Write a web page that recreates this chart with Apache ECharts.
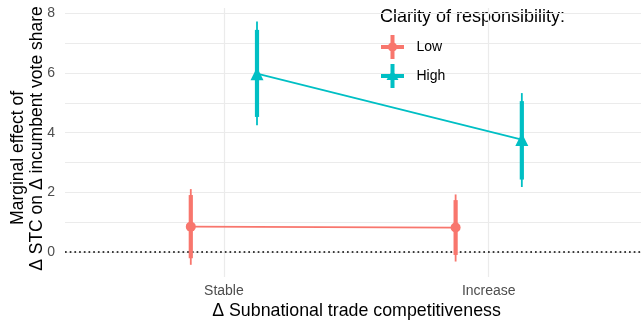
<!DOCTYPE html>
<html>
<head>
<meta charset="utf-8">
<script src="https://cdn.jsdelivr.net/npm/echarts@6/dist/echarts.min.js"></script>
<style>html,body{margin:0;padding:0;background:#fff}#c{width:641px;height:322px}</style>
</head>
<body>
<div id="c"></div>
<script>
// ---- data ----
var categories = ['Stable', 'Increase'];
var seriesNames = ['Low', 'High'];
var lowEst   = [0.85, 0.82];
var lowLo90  = [-0.21, -0.10];
var lowHi90  = [1.91, 1.74];
var lowLo95  = [-0.43, -0.32];
var lowHi95  = [2.11, 1.93];
var highEst  = [5.98, 3.77];
var highLo90 = [4.53, 2.43];
var highHi90 = [7.45, 5.06];
var highLo95 = [4.25, 2.18];
var highHi95 = [7.73, 5.33];
var yTickValues = [0, 2, 4, 6, 8];
var yGridValues = [0, 1, 2, 3, 4, 5, 6, 7, 8];
var legendTitle = 'Clarity of responsibility:';
var xTitle = 'Δ Subnational trade competitiveness';
var yTitle = 'Marginal effect of        \nΔ STC on Δ incumbent vote share';

// ---- build ----
var FONT = 'Liberation Sans, Arial, sans-serif';
var colors = {Low: '#F8766D', High: '#00BFC4'};
var dodge = 0.125;
var catPos = categories.map(function (c, i) { return i + 1; });

function pts(est, off) {
  return est.map(function (v, i) { return [catPos[i] + off, v]; });
}
function ci(lo95, hi95, lo90, hi90, off) {
  return lo95.map(function (v, i) { return [catPos[i] + off, lo95[i], hi95[i], lo90[i], hi90[i]]; });
}
function ciRender(color) {
  return function (params, api) {
    var x = api.value(0);
    var a = api.coord([x, api.value(1)]);
    var b = api.coord([x, api.value(2)]);
    var c = api.coord([x, api.value(3)]);
    var d = api.coord([x, api.value(4)]);
    return {
      type: 'group',
      children: [
        {type: 'line', shape: {x1: a[0], y1: a[1], x2: b[0], y2: b[1]}, style: {stroke: color, lineWidth: 1.8}},
        {type: 'line', shape: {x1: c[0], y1: c[1], x2: d[0], y2: d[1]}, style: {stroke: color, lineWidth: 4.2}}
      ]
    };
  };
}

var iconLow = 'path://M0,10 L23,10 L23,14 L0,14 Z M9.5,0 L13.5,0 L13.5,24 L9.5,24 Z M16.2,12 A4.7,4.7 0 1,1 6.8,12 A4.7,4.7 0 1,1 16.2,12 Z';
var iconHigh = 'path://M0,10 L23,10 L23,14 L0,14 Z M9.5,0 L13.5,0 L13.5,24 L9.5,24 Z M11.5,5.5 L17.5,16 L5.5,16 Z';

var gridLines = yGridValues.map(function (v) { return {yAxis: v}; })
  .concat(catPos.map(function (v) { return {xAxis: v}; }));

var chart = echarts.init(document.getElementById('c'), null, {renderer: 'canvas'});
chart.setOption({
  animation: false,
  backgroundColor: '#ffffff',
  textStyle: {fontFamily: FONT},
  grid: {left: 65, right: 0, top: 8, bottom: 45, containLabel: false, outerBoundsMode: 'none'},
  xAxis: {
    type: 'value', min: 0.4, max: 2.575,
    axisLine: {show: false}, axisTick: {show: false}, splitLine: {show: false},
    axisLabel: {
      customValues: catPos, color: '#4D4D4D', fontSize: 14, margin: 7, fontFamily: FONT,
      formatter: function (v) { return categories[Math.round(v) - 1] || ''; }
    },
    name: xTitle, nameLocation: 'middle', nameGap: 25, nameMoveOverlap: false,
    nameTextStyle: {color: '#000', fontSize: 17.8, fontFamily: FONT, padding: [0, 0, 0, 7]}
  },
  yAxis: {
    type: 'value', min: -0.839, max: 8.184,
    axisLine: {show: false}, axisTick: {show: false}, splitLine: {show: false},
    axisLabel: {customValues: yTickValues, color: '#4D4D4D', fontSize: 14, margin: 10, fontFamily: FONT},
    name: yTitle, nameLocation: 'middle', nameGap: 18, nameRotate: 90, nameMoveOverlap: false,
    nameTextStyle: {color: '#000', fontSize: 17.5, fontFamily: FONT, lineHeight: 19.5, verticalAlign: 'bottom', padding: [0, 0, 0, 8]}
  },
  legend: {
    data: [{name: 'Low', icon: iconLow}, {name: 'High', icon: iconHigh}],
    orient: 'vertical', left: 381, top: 35, padding: 0,
    itemWidth: 24, itemHeight: 24, itemGap: 5,
    selectedMode: false,
    textStyle: {fontSize: 14, color: '#000', fontFamily: FONT, padding: [0, 0, 0, 7]}
  },
  graphic: [{
    type: 'text', left: 380, top: 8,
    style: {text: legendTitle, fontSize: 18, fill: '#000', fontFamily: FONT}
  }],
  series: [
    {
      name: 'grid', type: 'line', data: pts(lowEst, -dodge), symbol: 'none',
      lineStyle: {opacity: 0}, silent: true, z: 0,
      markLine: {silent: true, symbol: 'none', label: {show: false}, z: 0, animation: false,
        lineStyle: {color: '#EBEBEB', width: 1.2, type: 'solid'}, data: gridLines}
    },
    {
      name: 'zero', type: 'line', data: pts(lowEst, -dodge), symbol: 'none',
      lineStyle: {opacity: 0}, silent: true, z: 1,
      markLine: {silent: true, symbol: 'none', label: {show: false}, z: 1, animation: false,
        lineStyle: {color: '#000', width: 1.7, type: [1.7, 3.0]}, data: [{yAxis: 0}]}
    },
    {
      name: 'Low CI', type: 'custom', renderItem: ciRender(colors.Low),
      data: ci(lowLo95, lowHi95, lowLo90, lowHi90, -dodge), z: 3, silent: true
    },
    {
      name: 'High CI', type: 'custom', renderItem: ciRender(colors.High),
      data: ci(highLo95, highHi95, highLo90, highHi90, dodge), z: 3, silent: true
    },
    {
      name: 'Low', type: 'line', data: pts(lowEst, -dodge), z: 4,
      symbol: 'circle', symbolSize: 10,
      itemStyle: {color: colors.Low}, lineStyle: {color: colors.Low, width: 1.8}
    },
    {
      name: 'High', type: 'line', data: pts(highEst, dodge), z: 4,
      symbol: 'triangle', symbolSize: 13,
      itemStyle: {color: colors.High}, lineStyle: {color: colors.High, width: 1.8}
    }
  ]
});
</script>
</body>
</html>
